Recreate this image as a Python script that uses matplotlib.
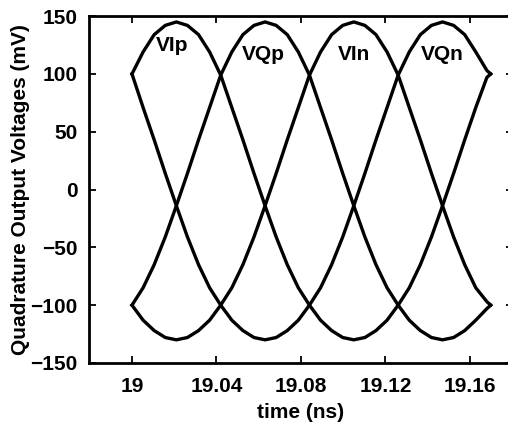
import matplotlib
matplotlib.use("Agg")
import matplotlib.pyplot as plt

plt.rcParams['font.family'] = ['Liberation Sans', 'DejaVu Sans']
plt.rcParams['font.weight'] = 'bold'

# time samples (ns)
t = [19.0, 19.00525, 19.0105, 19.01575, 19.021, 19.02625, 19.0315, 19.03675,
     19.042, 19.04725, 19.0525, 19.05775, 19.063, 19.06825, 19.0735, 19.07875,
     19.084, 19.08925, 19.0945, 19.09975, 19.105, 19.11025, 19.1155, 19.12075,
     19.126, 19.13125, 19.1365, 19.14175, 19.147, 19.15225, 19.1575, 19.16275,
     19.168, 19.1698]

# output voltages (mV)
vip = [100, 119, 134, 142, 145, 142, 134, 119, 99, 71, 43, 14, -14, -41, -65, -85,
       -100, -113, -122, -128, -130, -128, -122, -113, -100, -85, -65, -41, -14, 14,
       43, 71, 97, 100]
vqp = [-100, -85, -65, -41, -14, 14, 43, 71, 99, 119, 134, 142, 145, 142, 134, 119,
       99, 71, 43, 14, -14, -41, -65, -85, -100, -113, -122, -128, -130, -128,
       -122, -113, -103, -100]
vin = [-100, -113, -122, -128, -130, -128, -122, -113, -100, -85, -65, -41, -14, 14,
       43, 71, 99, 119, 134, 142, 145, 142, 134, 119, 99, 71, 43, 14, -14, -41,
       -65, -85, -97, -100]
vqn = [100, 71, 43, 14, -14, -41, -65, -85, -100, -113, -122, -128, -130, -128, -122,
       -113, -100, -85, -65, -41, -14, 14, 43, 71, 99, 119, 134, 142, 145, 142,
       134, 119, 103, 100]

labels = ['VIp', 'VQp', 'VIn', 'VQn']
label_x = [19.0189, 19.0622, 19.1051, 19.1468]
label_y = [120, 112, 112, 112]

fig = plt.figure(figsize=(5.08, 4.25), dpi=100)
ax = fig.add_axes([0.175, 0.146, 0.835, 0.816])

for v in (vip, vqp, vin, vqn):
    ax.plot(t, v, color='black', linewidth=2.4)

for lab, lx, ly in zip(labels, label_x, label_y):
    ax.text(lx, ly, lab, ha='center', va='baseline', fontsize=15, fontweight='bold')

ax.set_xlim(18.9796, 19.1804)
ax.set_ylim(-150, 150)
ax.set_xticks([19, 19.04, 19.08, 19.12, 19.16])
ax.set_xticklabels(['19', '19.04', '19.08', '19.12', '19.16'])
ax.set_yticks([-150, -100, -50, 0, 50, 100, 150])

ax.tick_params(direction='in', top=True, right=True, length=5, width=1.3,
               labelsize=15)
ax.tick_params(axis='x', pad=10)
ax.tick_params(axis='y', pad=8)
for s in ax.spines.values():
    s.set_linewidth(2)

ax.set_xlabel('time (ns)', fontsize=15, fontweight='bold')
ax.set_ylabel('Quadrature Output Voltages (mV)', fontsize=15, fontweight='bold')
ax.xaxis.set_label_coords(0.5, -0.115)
ax.yaxis.set_label_coords(-0.138, 0.5)

fig.savefig('out.png', dpi=100)
